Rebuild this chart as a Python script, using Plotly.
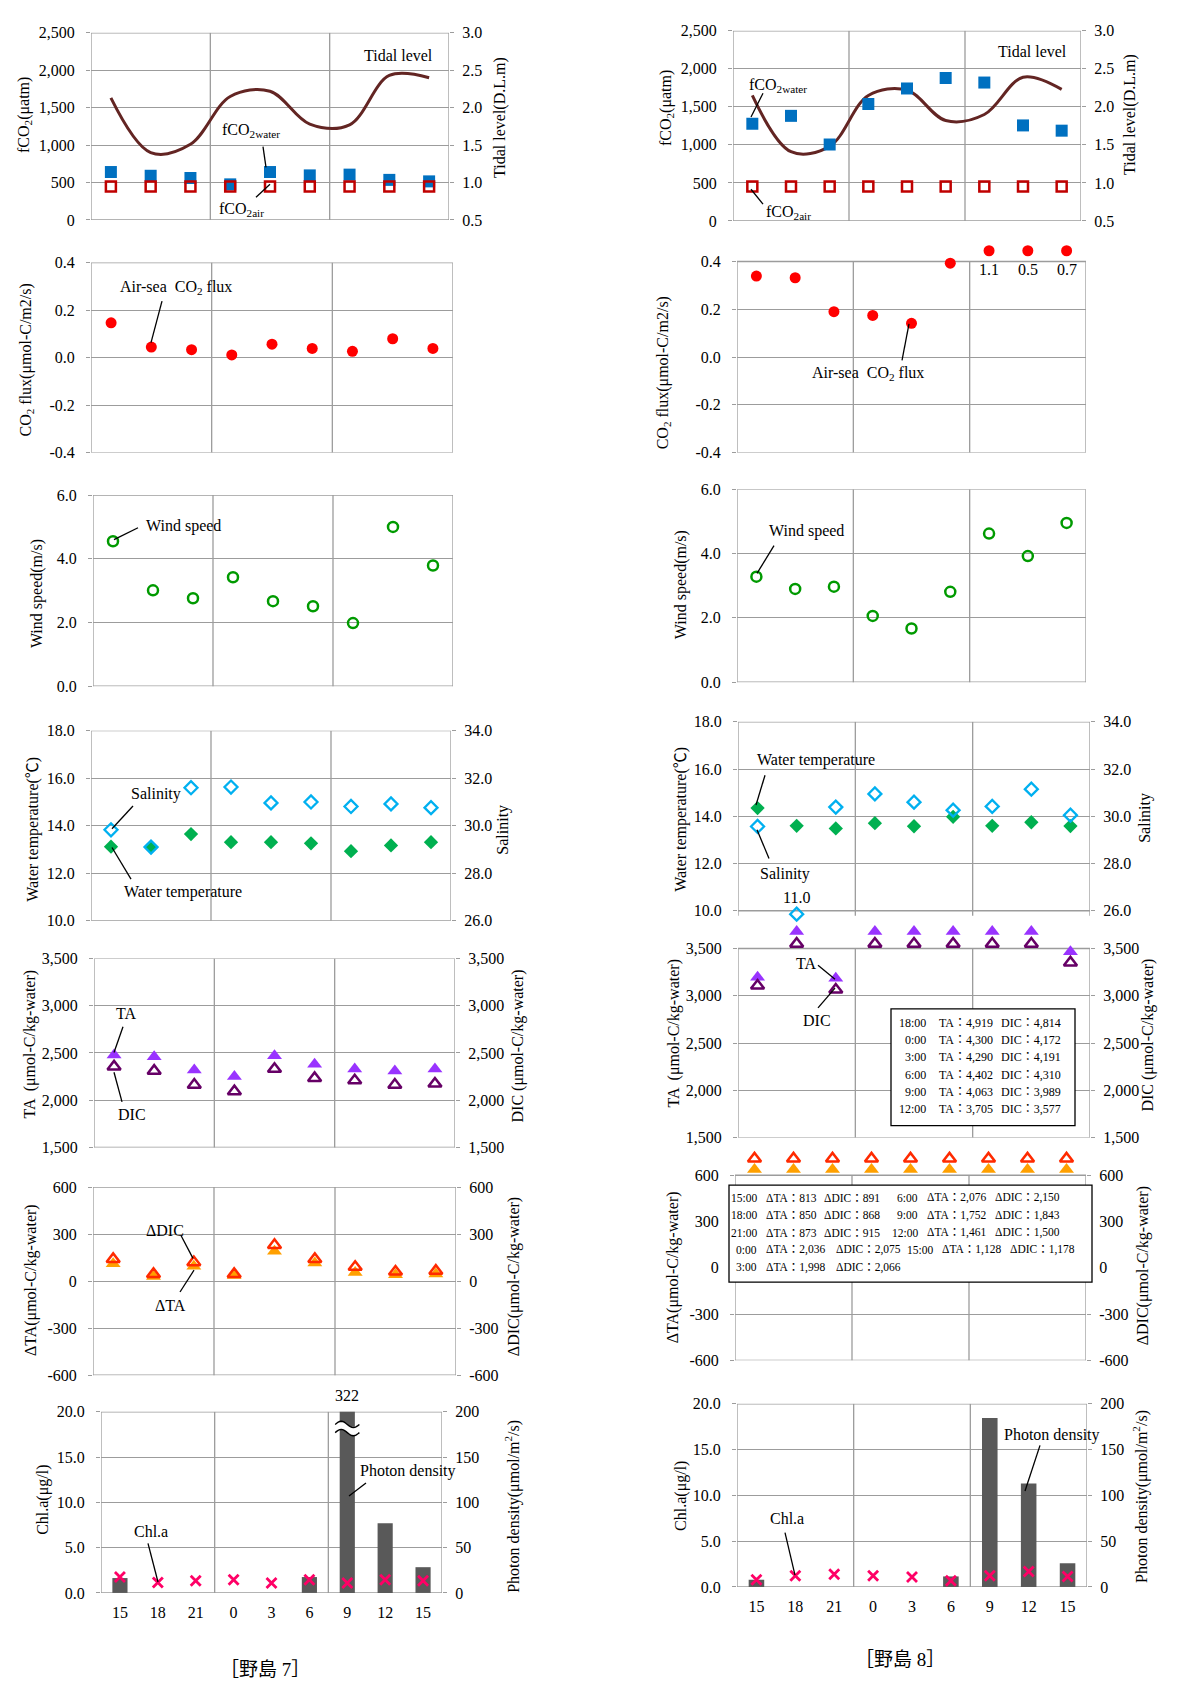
import numpy as np
import plotly.graph_objects as go

W, H = 1179, 1683
FONT = "Liberation Serif"
CJK = "Liberation Serif, Noto Sans CJK JP"
GRID = "#9C9C9C"

# ---------------- data ----------------
hours = ["15", "18", "21", "0", "3", "6", "9", "12", "15"]
pos = list(range(len(hours)))

# Nojima 7
fco2_water_7 = [640, 590, 560, 475, 640, 595, 605, 535, 515]
fco2_air_7 = [445, 445, 445, 445, 445, 445, 445, 445, 445]
tide_7 = [2.13, 1.40, 1.51, 2.15, 2.22, 1.78, 1.77, 2.43, 2.40]
flux_7 = [0.146, 0.044, 0.033, 0.011, 0.056, 0.038, 0.026, 0.079, 0.038]
wind_7 = [4.55, 3.01, 2.76, 3.42, 2.67, 2.51, 1.98, 5.00, 3.79]
temp_7 = [13.12, 13.10, 13.65, 13.31, 13.31, 13.26, 12.93, 13.17, 13.31]
sal_7 = [29.83, 29.10, 31.60, 31.63, 30.96, 31.00, 30.81, 30.92, 30.76]
ta_7 = [2477, 2460, 2320, 2250, 2470, 2380, 2330, 2310, 2330]
dic_7 = [2355, 2310, 2163, 2093, 2330, 2233, 2209, 2163, 2174]
dta_7 = [110, 30, 95, 35, 190, 115, 55, 40, 45]
ddic_7 = [140, 45, 120, 45, 230, 140, 90, 60, 65]
chl_7 = [1.75, 1.16, 1.35, 1.45, 1.09, 1.45, 1.09, 1.45, 1.35]
photon_7 = [16.4, 0, 0, 0, 0, 17.5, 322, 77, 28.4]

# Nojima 8
fco2_water_8 = [1278, 1382, 1005, 1538, 1742, 1880, 1820, 1256, 1187]
fco2_air_8 = [452, 452, 452, 452, 452, 452, 452, 452, 452]
tide_8 = [2.15, 1.41, 1.48, 2.15, 2.22, 1.82, 1.90, 2.39, 2.23]
flux_8 = [0.339, 0.332, 0.190, 0.174, 0.141, 0.393, 1.1, 0.5, 0.7]
wind_8 = [3.28, 2.90, 2.97, 2.06, 1.67, 2.81, 4.62, 3.92, 4.95]
temp_8 = [14.35, 13.60, 13.49, 13.71, 13.58, 13.98, 13.60, 13.75, 13.59]
sal_8 = [29.57, 11.0, 30.39, 30.95, 30.60, 30.26, 30.42, 31.15, 30.05]
ta_8 = [3196, 4919, 3186, 4300, 4290, 4402, 4063, 3705, 3465]
dic_8 = [3106, 4814, 3064, 4172, 4191, 4310, 3989, 3577, 3350]
dta_8 = [813, 850, 873, 2036, 1998, 2076, 1752, 1461, 1128]
ddic_8 = [891, 868, 915, 2075, 2066, 2150, 1843, 1500, 1178]
chl_8 = [0.79, 1.22, 1.40, 1.22, 1.08, 0.68, 1.22, 1.69, 1.15]
photon_8 = [7.9, 0, 0, 0, 0, 11.5, 184.6, 113, 25.9]

# where off-scale values are drawn (just outside the frame)
FLUX_CAP = 0.445
SAL_FLOOR = 25.86
TA_CAP, DIC_CAP = 3680, 3550
DTA_CAP, DDIC_CAP = 636, 707

# tick labels
fco2_spec = ([0, 500, 1000, 1500, 2000, 2500], ["0", "500", "1,000", "1,500", "2,000", "2,500"])
tide_spec = ([0.5, 1.0, 1.5, 2.0, 2.5, 3.0], ["0.5", "1.0", "1.5", "2.0", "2.5", "3.0"])
flux_spec = ([-0.4, -0.2, 0, 0.2, 0.4], ["-0.4", "-0.2", "0.0", "0.2", "0.4"])
wind_spec = ([0, 2, 4, 6], ["0.0", "2.0", "4.0", "6.0"])
temp_spec = ([10, 12, 14, 16, 18], ["10.0", "12.0", "14.0", "16.0", "18.0"])
sal_spec = ([26, 28, 30, 32, 34], ["26.0", "28.0", "30.0", "32.0", "34.0"])
carb_spec = ([1500, 2000, 2500, 3000, 3500], ["1,500", "2,000", "2,500", "3,000", "3,500"])
delta_spec = ([-600, -300, 0, 300, 600], ["-600", "-300", "0", "300", "600"])
chl_spec = ([0, 5, 10, 15, 20], ["0.0", "5.0", "10.0", "15.0", "20.0"])
photon_spec = ([0, 50, 100, 150, 200], ["0", "50", "100", "150", "200"])

# ---------------- helpers ----------------
fig = go.Figure()
axes = {}
counter = {"x": 0, "y": 0}
annos = []
shapes = []
NX = len(hours)
DIVS = [-0.5 + 3 * k for k in range(4)]


def new_axis(kind):
    counter[kind] += 1
    n = counter[kind]
    suf = "" if n == 1 else str(n)
    return kind + "axis" + suf, kind + suf


def panel(box, left, right=None, base="left", bottom=False, pad_top=0, pad_bot=0):
    """A framed panel. The axis range may reach pad_top / pad_bot px beyond the frame so
    that off-scale values can be drawn just outside it (as in the original)."""
    x0, x1, y0, y1 = box

    def ydict(spec, side):
        vals, text = spec
        lo, hi = vals[0], vals[-1]
        k = (hi - lo) / (y1 - y0)
        return dict(range=[lo - pad_bot * k, hi + pad_top * k], tickmode="array",
                    tickvals=vals, ticktext=text, ticks="outside", ticklen=4, tickwidth=1.3,
                    tickcolor=GRID, side=side, showline=False, zeroline=False,
                    ticklabelstandoff=8 if side == "left" else 5,
                    tickfont=dict(family=FONT, size=16, color="black"))

    xk, xr = new_axis("x")
    bk, br = new_axis("y")
    if right is None:
        base_spec = left
        axes[bk] = ydict(left, "left")
        yl, yr = br, None
    else:
        ok, orr = new_axis("y")
        if base == "left":
            base_spec = left
            axes[bk] = ydict(left, "left")
            axes[ok] = ydict(right, "right")
            yl, yr = br, orr
        else:
            base_spec = right
            axes[bk] = ydict(right, "right")
            axes[ok] = ydict(left, "left")
            yl, yr = orr, br
        axes[ok].update(overlaying=br, anchor=xr, showgrid=False)
    axes[bk].update(domain=[1 - (y1 + pad_bot) / H, 1 - (y0 - pad_top) / H], anchor=xr,
                    showgrid=True, gridcolor=GRID, gridwidth=1.3)
    xd = dict(domain=[x0 / W, x1 / W], anchor=br, range=[-0.5, NX - 0.5],
              zeroline=False, showline=False, showgrid=False)
    if bottom:
        xd.update(tickmode="array", tickvals=pos, ticktext=hours, ticks="outside", ticklen=5,
                  tickcolor="rgba(0,0,0,0)", tickfont=dict(family=FONT, size=16, color="black"))
    else:
        xd.update(showticklabels=False, ticks="")
    axes[xk] = xd

    # frame, vertical division lines and division ticks (in the panel's own data units)
    lo, hi = base_spec[0][0], base_spec[0][-1]
    kb = (hi - lo) / (y1 - y0)
    ln = dict(color=GRID, width=1.3)
    shapes.append(dict(type="rect", xref=xr, yref=br, x0=-0.5, x1=NX - 0.5, y0=lo, y1=hi,
                       line=ln, layer="below"))
    for d in DIVS:
        if -0.5 < d < NX - 0.5:
            shapes.append(dict(type="line", xref=xr, yref=br, x0=d, x1=d, y0=lo, y1=hi,
                               line=ln, layer="below"))
        shapes.append(dict(type="line", xref=xr, yref=br, x0=d, x1=d, y0=lo, y1=lo - 5 * kb,
                           line=ln, layer="below"))
    return dict(x=xr, yl=yl, yr=yr)


def pts(xref, yref, y, symbol, size, color, lw=0):
    fig.add_trace(go.Scatter(
        x=pos, y=y, xaxis=xref, yaxis=yref, mode="markers", cliponaxis=False,
        marker=dict(symbol=symbol, size=size, color=color,
                    line=dict(width=lw, color=color)),
        showlegend=False, hoverinfo="skip"))


def bars(p, yref, y):
    fig.add_trace(go.Bar(x=pos, y=y, xaxis=p["x"], yaxis=yref, width=0.4,
                         marker=dict(color="#595959", line=dict(width=0)),
                         showlegend=False, hoverinfo="skip"))


def text(t, x, y, size=16, fam=FONT, angle=0, xanchor="center"):
    annos.append(dict(text=t, x=x / W, y=1 - y / H, xref="paper", yref="paper",
                      showarrow=False, textangle=angle, xanchor=xanchor, yanchor="middle",
                      font=dict(family=fam, size=size, color="black")))


def leader(x0, y0, x1, y1):
    shapes.append(dict(type="line", xref="paper", yref="paper", x0=x0 / W, y0=1 - y0 / H,
                       x1=x1 / W, y1=1 - y1 / H, line=dict(color="black", width=1.3)))


def data_label(xref, yref, i, yv, t, yshift):
    annos.append(dict(text=t, x=i, y=yv, xref=xref, yref=yref, showarrow=False,
                      yshift=yshift, xanchor="center", yanchor="middle",
                      font=dict(family=FONT, size=16, color="black")))


# ---------------- panels: 野島7 ----------------
L1 = panel((83, 441, 17, 206), fco2_spec, tide_spec, base="right")
fig.add_trace(go.Scatter(x=pos, y=tide_7, xaxis=L1["x"], yaxis=L1["yr"], mode="lines",
                         line=dict(color="#632523", width=3, shape="spline", smoothing=1.0),
                         showlegend=False, hoverinfo="skip"))
pts(L1["x"], L1["yl"], fco2_water_7, "square", 12, "#0070C0")
pts(L1["x"], L1["yl"], fco2_air_7, "square-open", 10, "#C00000", 2.5)

L2 = panel((83, 445, 249, 441), flux_spec)
pts(L2["x"], L2["yl"], flux_7, "circle", 11, "#FF0000")

L3 = panel((85, 445, 484, 677), wind_spec)
pts(L3["x"], L3["yl"], wind_7, "circle-open", 10, "#009A00", 2.5)

L4 = panel((83, 443, 722, 914), temp_spec, sal_spec)
pts(L4["x"], L4["yl"], temp_7, "diamond", 11, "#00B050")
pts(L4["x"], L4["yr"], sal_7, "diamond-open", 10, "#00B0F0", 2.3)

L5 = panel((86, 447, 952, 1143), carb_spec, carb_spec)
pts(L5["x"], L5["yl"], ta_7, "triangle-up", 13, "#9933FF")
pts(L5["x"], L5["yr"], dic_7, "triangle-up-open", 11.5, "#660066", 2.5)

L6 = panel((85, 448, 1183, 1373), delta_spec, delta_spec)
pts(L6["x"], L6["yl"], dta_7, "triangle-up", 13, "#FFA000")
pts(L6["x"], L6["yr"], ddic_7, "triangle-up-open", 11.5, "#FF2A00", 2.5)

L7 = panel((93, 434, 1410, 1593), chl_spec, photon_spec, base="right", bottom=True)
bars(L7, L7["yr"], photon_7)
pts(L7["x"], L7["yl"], chl_7, "x-thin", 10, "#FF0066", 2.8)

# ---------------- panels: 野島8 ----------------
R1 = panel((725, 1073, 15, 207), fco2_spec, tide_spec, base="right")
fig.add_trace(go.Scatter(x=pos, y=tide_8, xaxis=R1["x"], yaxis=R1["yr"], mode="lines",
                         line=dict(color="#632523", width=3, shape="spline", smoothing=1.0),
                         showlegend=False, hoverinfo="skip"))
pts(R1["x"], R1["yl"], fco2_water_8, "square", 12, "#0070C0")
pts(R1["x"], R1["yl"], fco2_air_8, "square-open", 10, "#C00000", 2.5)

R2 = panel((729, 1078, 248, 441), flux_spec, pad_top=16)
pts(R2["x"], R2["yl"], [min(v, FLUX_CAP) for v in flux_8], "circle", 11, "#FF0000")
for i, v in enumerate(flux_8):
    if v > flux_spec[0][-1]:
        data_label(R2["x"], R2["yl"], i, FLUX_CAP, f"{v:.1f}", -19)

R3 = panel((729, 1078, 478, 673), wind_spec)
pts(R3["x"], R3["yl"], wind_8, "circle-open", 10, "#009A00", 2.5)

R4 = panel((730, 1082, 713, 904), temp_spec, sal_spec, pad_bot=6)
pts(R4["x"], R4["yl"], temp_8, "diamond", 11, "#00B050")
pts(R4["x"], R4["yr"], [max(v, SAL_FLOOR) for v in sal_8], "diamond-open", 10, "#00B0F0", 2.3)
for i, v in enumerate(sal_8):
    if v < sal_spec[0][0]:
        data_label(R4["x"], R4["yr"], i, SAL_FLOOR, f"{v:.1f}", 17)

R5 = panel((730, 1082, 942, 1133), carb_spec, carb_spec, pad_top=21)
pts(R5["x"], R5["yl"], [min(v, TA_CAP) for v in ta_8], "triangle-up", 13, "#9933FF")
pts(R5["x"], R5["yr"], [min(v, DIC_CAP) for v in dic_8], "triangle-up-open", 11.5, "#660066", 2.5)

R6 = panel((727, 1078, 1171, 1358), delta_spec, delta_spec, pad_top=21)
pts(R6["x"], R6["yl"], [min(v, DTA_CAP) for v in dta_8], "triangle-up", 13, "#FFA000")
pts(R6["x"], R6["yr"], [min(v, DDIC_CAP) for v in ddic_8], "triangle-up-open", 11.5, "#FF2A00", 2.5)

R7 = panel((729, 1079, 1402, 1587), chl_spec, photon_spec, base="right", bottom=True)
bars(R7, R7["yr"], photon_8)
pts(R7["x"], R7["yl"], chl_8, "x-thin", 10, "#FF0066", 2.8)

# ---------------- off-scale bar (322) with break mark ----------------
pmax = photon_spec[0][-1]
for i, v in enumerate(photon_7):
    if v > pmax:
        data_label(L7["x"], L7["yr"], i, pmax, f"{v:.0f}", 16)
        t = np.linspace(0, 1, 17)
        xs = i - 0.32 + 0.64 * t
        up = 186 + 3.5 * np.sin(2 * np.pi * t)
        lo = 177 + 3.5 * np.sin(2 * np.pi * t)
        poly = "M" + " L".join(f"{a:.3f},{b:.2f}" for a, b in zip(xs, up)) + " L" + \
               " L".join(f"{a:.3f},{b:.2f}" for a, b in zip(xs[::-1], lo[::-1])) + " Z"
        shapes.append(dict(type="path", path=poly, xref=L7["x"], yref=L7["yr"],
                           fillcolor="white", line=dict(width=0), layer="above"))
        for wave in (up, lo):
            pth = "M" + " L".join(f"{a:.3f},{b:.2f}" for a, b in zip(xs, wave))
            shapes.append(dict(type="path", path=pth, xref=L7["x"], yref=L7["yr"],
                               line=dict(color="black", width=1.4), layer="above"))

# ---------------- axis titles ----------------
titles = [
    ("fCO<sub>2</sub>(μatm)", 17, 100), ("Tidal level(D.L.m)", 492, 103),
    ("CO<sub>2</sub> flux(μmol-C/m2/s)", 18, 348),
    ("Wind speed(m/s)", 29, 584),
    ("Water temperature(℃)", 25, 822), ("Salinity", 495, 822),
    ("TA  (μmol-C/kg-water)", 22, 1039), ("DIC (μmol-C/kg-water)", 510, 1041),
    ("ΔTA(μmol-C/kg-water)", 23, 1277), ("ΔDIC(μmol-C/kg-water)", 506, 1274),
    ("Chl.a(μg/l)", 35, 1499), ("Photon density(μmol/m<sup>2</sup>/s)", 505, 1506),
    ("fCO<sub>2</sub>(μatm)", 658, 93), ("Tidal level(D.L.m)", 1122, 100),
    ("CO<sub>2</sub> flux(μmol-C/m2/s)", 655, 361),
    ("Wind speed(m/s)", 673, 575),
    ("Water temperature(℃)", 673, 812), ("Salinity", 1137, 810),
    ("TA  (μmol-C/kg-water)", 666, 1028), ("DIC (μmol-C/kg-water)", 1140, 1030),
    ("ΔTA(μmol-C/kg-water)", 665, 1264), ("ΔDIC(μmol-C/kg-water)", 1135, 1263),
    ("Chl.a(μg/l)", 673, 1495), ("Photon density(μmol/m<sup>2</sup>/s)", 1133, 1496),
]
for t, x, y in titles:
    text(t, x, y, size=16, fam=CJK, angle=-90)

# ---------------- series labels with leader lines ----------------
labels = [
    ("Tidal level", 390, 40, None),
    ("fCO<sub>2water</sub>", 243, 116, (255, 132, 258, 153)),
    ("fCO<sub>2air</sub>", 233, 195, (248, 183, 262, 170)),
    ("Air-sea  CO<sub>2</sub> flux", 168, 274, (154, 288, 143, 330)),
    ("Wind speed", 175, 515, (130, 517, 106, 529)),
    ("Salinity", 148, 786, (125, 798, 104, 821)),
    ("Water temperature", 175, 885, (123, 872, 104, 840)),
    ("TA", 118, 1008, (115, 1021, 106, 1047)),
    ("DIC", 124, 1110, (114, 1097, 106, 1067)),
    ("ΔDIC", 157, 1227, (173, 1232, 185, 1255)),
    ("ΔTA", 162, 1303, (172, 1289, 186, 1267)),
    ("Photon density", 400, 1470, (358, 1482, 341, 1495)),
    ("Chl.a", 143, 1531, (140, 1543, 150, 1582)),
    ("Tidal level", 1024, 36, None),
    ("fCO<sub>2water</sub>", 770, 70, (755, 78, 743, 102)),
    ("fCO<sub>2air</sub>", 780, 198, (755, 190, 743, 175)),
    ("Air-sea  CO<sub>2</sub> flux", 860, 361, (894, 348, 901, 311)),
    ("Wind speed", 798, 520, (766, 535, 749, 563)),
    ("Water temperature", 808, 752, (757, 767, 748, 797)),
    ("Salinity", 777, 867, (761, 851, 749, 822)),
    ("TA", 798, 957, (810, 959, 827, 973)),
    ("DIC", 809, 1015, (810, 1002, 827, 982)),
    ("Photon density", 1044, 1433, (1032, 1444, 1017, 1490)),
    ("Chl.a", 779, 1518, (777, 1532, 787, 1575)),
]
for t, x, y, ln in labels:
    text(t, x, y)
    if ln:
        leader(*ln)

# ---------------- value tables ----------------
times = [f"{h}:00" for h in hours]

# TA / DIC table (off-scale points of 野島8)
shapes.append(dict(type="rect", xref="paper", yref="paper", x0=883 / W, x1=1067 / W,
                   y0=1 - 1121 / H, y1=1 - 1003 / H, fillcolor="white",
                   line=dict(color="black", width=1.3), layer="above"))
off = [i for i in pos if ta_8[i] > carb_spec[0][-1]]
for k, i in enumerate(off):
    yy = 1017 + k * 17.5
    text(times[i], 920, yy, size=12, fam=CJK, xanchor="right")
    text(f"TA：{ta_8[i]:,}", 929, yy, size=12, fam=CJK, xanchor="left")
    text(f"DIC：{dic_8[i]:,}", 991, yy, size=12, fam=CJK, xanchor="left")

# ΔTA / ΔDIC table
shapes.append(dict(type="rect", xref="paper", yref="paper", x0=721 / W, x1=1084 / W,
                   y0=1 - 1279 / H, y1=1 - 1181 / H, fillcolor="white",
                   line=dict(color="black", width=1.3), layer="above"))
blockA = dict(t=[751] * 5, a=[756] * 5, d=[814, 814, 814, 826, 826])
blockB = dict(t=[912, 912, 912, 927], a=[917, 917, 917, 932], d=[985, 985, 985, 1000])
for i in pos:
    if i < 5:
        r, blk = i, blockA
    else:
        r, blk = i - 5, blockB
    yy = 1194 + r * 17.5
    text(times[i], blk["t"][r], yy, size=11.5, fam=CJK, xanchor="right")
    text(f"ΔTA：{dta_8[i]:,}", blk["a"][r], yy, size=11.5, fam=CJK, xanchor="left")
    text(f"ΔDIC：{ddic_8[i]:,}", blk["d"][r], yy, size=11.5, fam=CJK, xanchor="left")

# ---------------- captions ----------------
text("［野島 7］", 257, 1670, size=19, fam=CJK)
text("［野島 8］", 892, 1660, size=19, fam=CJK)

fig.update_layout(
    width=W, height=H, margin=dict(l=0, r=0, t=0, b=0),
    paper_bgcolor="white", plot_bgcolor="rgba(0,0,0,0)",
    font=dict(family=FONT, size=16, color="black"),
    showlegend=False, annotations=annos, shapes=shapes, barmode="overlay",
    **axes,
)
fig.write_html("out.html")
